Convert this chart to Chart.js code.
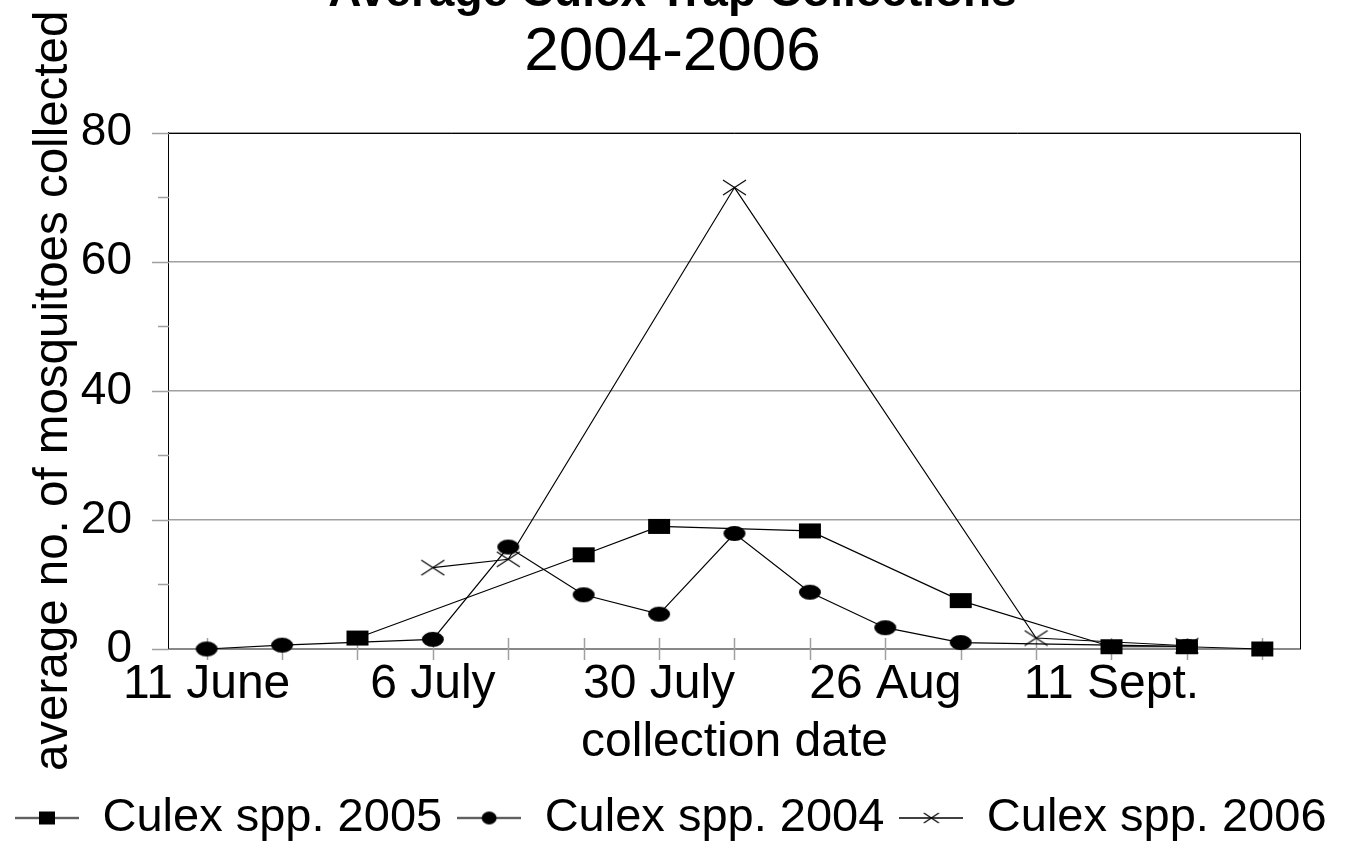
<!DOCTYPE html>
<html>
<head>
<meta charset="utf-8">
<title>Average Culex Trap Collections</title>
<script src="https://cdn.jsdelivr.net/npm/chart.js@4.4.1/dist/chart.umd.min.js"></script>
<style>
  html, body { margin: 0; padding: 0; background: #fff; overflow: hidden; }
  #wrap { position: relative; width: 1345px; height: 858px; overflow: hidden; }
  /* the bold title is cut off at the top in the reference, so the canvas sits a bit higher */
  #chartCulex { position: absolute; left: 0; top: -40px; }
</style>
</head>
<body>
<div id="wrap">
  <canvas id="chartCulex" width="1345" height="898"></canvas>
</div>
<script>
'use strict';

// DATA: collection dates (only every third one is labelled on the axis)
const categories = ['11 June', '', '', '6 July', '', '', '30 July', '', '', '26 Aug', '', '', '11 Sept.', '', ''];
// average no. of mosquitoes per trap, null = no collection that week
const culex2005 = [null, null, 1.7, null, null, 14.6, 19.0, null, 18.3, null, 7.5, null, 0.35, 0.35, 0];
const culex2004 = [0, 0.6, null, 1.5, 15.8, 8.4, 5.4, 17.9, 8.8, 3.3, 1.0, null, null, 0.4, null];
const culex2006 = [null, null, null, 12.6, 13.9, null, null, 71.5, null, null, null, 1.7, null, 0.5, null];
const seriesNames = ['Culex spp. 2005', 'Culex spp. 2004', 'Culex spp. 2006'];
const yTicks = [0, 20, 40, 60, 80];

const FONT = '"Liberation Sans", Arial, sans-serif';
const GRAY = '#a0a0a0';

// marker helper: draws a marker into a small canvas so it can be used as a pointStyle
function makeMarker(kind, w, h, lineLen) {
  let c = document.createElement('canvas');
  c.width = lineLen || w + 2;
  c.height = h + 2;
  let ctx = c.getContext('2d');
  let cx = c.width / 2;
  let cy = c.height / 2;
  ctx.fillStyle = '#000';
  ctx.strokeStyle = '#000';
  if (lineLen) {
    ctx.lineWidth = 1.5;
    ctx.beginPath();
    ctx.moveTo(0, cy);
    ctx.lineTo(lineLen, cy);
    ctx.stroke();
  }
  if (kind === 'square') {
    ctx.fillRect(cx - w / 2, cy - h / 2, w, h);
  } else if (kind === 'circle') {
    ctx.beginPath();
    ctx.ellipse(cx, cy, w / 2, h / 2, 0, 0, Math.PI * 2);
    ctx.fill();
  } else if (kind === 'cross') {
    ctx.lineWidth = 1.2;
    ctx.beginPath();
    ctx.moveTo(cx - w / 2, cy - h / 2);
    ctx.lineTo(cx + w / 2, cy + h / 2);
    ctx.moveTo(cx + w / 2, cy - h / 2);
    ctx.lineTo(cx - w / 2, cy + h / 2);
    ctx.stroke();
  }
  return c;
}

const pointMarkers = [makeMarker('square', 22, 15), makeMarker('circle', 22, 15), makeMarker('cross', 23, 15)];
const legendMarkers = [makeMarker('square', 16, 13, 64), makeMarker('circle', 15, 13, 64), makeMarker('cross', 15, 10, 64)];

// PLUGIN: tick marks crossing the x axis, short y ticks and the top/right frame
const frameTicks = {
  id: 'frameTicks',
  beforeDatasetsDraw(chart) {
    let ctx = chart.ctx;
    let area = chart.chartArea;
    let xs = chart.scales.x;
    let ys = chart.scales.y;
    ctx.save();
    ctx.strokeStyle = GRAY;
    ctx.lineWidth = 1.5;
    ctx.beginPath();
    for (let i = 0; i < categories.length; ++i) {
      let x = Math.round(xs.getPixelForTick(i)) + 0.5;
      ctx.moveTo(x, area.bottom - 11);
      ctx.lineTo(x, area.bottom + 11);
    }
    ys.ticks.forEach(function(t) {
      let y = Math.round(ys.getPixelForValue(t.value)) + 0.5;
      let len = yTicks.includes(t.value) ? 17 : 11;
      ctx.moveTo(area.left - len, y);
      ctx.lineTo(area.left, y);
    });
    ctx.stroke();
    ctx.strokeStyle = '#000';
    ctx.lineWidth = 1;
    ctx.beginPath();
    ctx.moveTo(area.left, Math.round(area.top) + 0.5);
    ctx.lineTo(Math.round(area.right) + 0.5, Math.round(area.top) + 0.5);
    ctx.lineTo(Math.round(area.right) + 0.5, area.bottom);
    ctx.stroke();
    ctx.restore();
  }
};

function buildDataset(i, values) {
  return {
    label: seriesNames[i],
    data: values,
    borderColor: '#000',
    backgroundColor: '#000',
    borderWidth: 1.2,
    pointStyle: pointMarkers[i],
    pointRadius: 8,
    pointHoverRadius: 8,
    spanGaps: true,
    tension: 0,
    clip: false
  };
}

let ctx = document.getElementById('chartCulex').getContext('2d');
/* eslint-disable-next-line no-unused-vars */ /* eslint-disable-next-line no-undef */
let chartCulex = new Chart(ctx, {
  type: 'line',
  data: {
    labels: categories,
    datasets: [buildDataset(0, culex2005), buildDataset(1, culex2004), buildDataset(2, culex2006)]
  },
  plugins: [frameTicks],
  options: {
    responsive: false,
    animation: false,
    events: [],
    layout: { padding: { top: 0, left: 0, right: 0, bottom: 6.5 } },
    plugins: {
      title: {
        display: true,
        text: 'Average Culex Trap Collections',
        color: '#000',
        font: { family: FONT, size: 46, weight: 'bold', lineHeight: 1.2 },
        padding: { top: 6, bottom: 0 }
      },
      subtitle: {
        display: true,
        text: '2004-2006',
        color: '#000',
        font: { family: FONT, size: 62, weight: 'normal', lineHeight: 1.0 },
        padding: { top: 1, bottom: 48.5 }
      },
      legend: {
        position: 'bottom',
        align: 'start',
        labels: {
          color: '#000',
          font: { family: FONT, size: 47 },
          usePointStyle: true,
          pointStyleWidth: 64,
          padding: 15,
          generateLabels(chart) {
            let items = Chart.defaults.plugins.legend.labels.generateLabels(chart);
            items.forEach(function(item, i) {
              item.pointStyle = legendMarkers[i];
            });
            return items;
          }
        }
      },
      tooltip: { enabled: false }
    },
    scales: {
      x: {
        type: 'category',
        offset: true,
        grid: { display: false, drawTicks: false },
        border: { display: true, color: '#888', width: 2 },
        ticks: {
          autoSkip: false,
          maxRotation: 0,
          minRotation: 0,
          color: '#000',
          padding: 9,
          font: { family: FONT, size: 48, lineHeight: 1.1 }
        },
        title: {
          display: true,
          text: 'collection date',
          color: '#000',
          font: { family: FONT, size: 48, lineHeight: 1.2 },
          padding: { top: -6.2, bottom: 8.3 }
        }
      },
      y: {
        min: 0,
        max: 80,
        grid: {
          drawTicks: false,
          color: (c) => (c.tick && yTicks.includes(c.tick.value)) ? GRAY : 'rgba(0,0,0,0)',
          lineWidth: 1.5
        },
        border: { display: true, color: '#000', width: 1 },
        ticks: {
          stepSize: 10,
          color: '#000',
          padding: 37,
          font: { family: FONT, size: 46, lineHeight: 1.2 },
          callback: (v) => yTicks.includes(v) ? String(v) : ''
        },
        title: {
          display: true,
          text: 'average no. of mosquitoes collected',
          color: '#000',
          font: { family: FONT, size: 47.5, lineHeight: 1.2 },
          padding: { top: 25.5, bottom: -38.7 }
        }
      },
      // empty right-hand axis, only there to keep the plot's right margin
      yRight: {
        position: 'right',
        display: true,
        grid: { display: false, drawTicks: false },
        border: { display: false },
        ticks: { display: false },
        afterFit(scale) { scale.width = 45; }
      }
    }
  }
});
</script>
</body>
</html>
